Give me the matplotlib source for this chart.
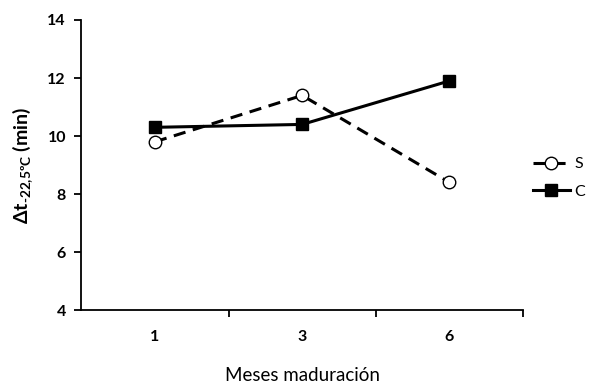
import matplotlib.pyplot as plt
import matplotlib as mpl

mpl.rcParams['font.family'] = ['Lato', 'DejaVu Sans']
mpl.rcParams['mathtext.fontset'] = 'custom'
mpl.rcParams['mathtext.rm'] = 'Lato:bold'
mpl.rcParams['mathtext.it'] = 'Lato:bold'
mpl.rcParams['mathtext.bf'] = 'Lato:bold'

meses = ['1', '3', '6']
s_vals = [9.8, 11.4, 8.4]
c_vals = [10.3, 10.4, 11.9]

fig = plt.figure(figsize=(5.93, 3.92), dpi=100)
ax = fig.add_axes([0.137, 0.209, 0.745, 0.74])
x = range(len(meses))

ax.plot(x, s_vals, color='black', lw=2.2, ls=(0, (4, 2.5)), marker='o', ms=9,
        mfc='white', mec='black', mew=1, label='S')
ax.plot(x, c_vals, color='black', lw=2.2, marker='s', ms=9,
        mfc='black', mec='black', label='C')

ax.set_xlim(-0.5, 2.5)
ax.set_ylim(4, 14)
ax.set_yticks([4, 6, 8, 10, 12, 14])
ax.set_xticks(list(x))
ax.set_xticklabels(meses)
ax.set_xticks([0.5, 1.5, 2.5], minor=True)
ax.tick_params(axis='x', which='major', length=0, pad=14)
ax.tick_params(axis='x', which='minor', length=5, width=1.3, direction='out')
ax.tick_params(axis='y', length=5, width=1.3, direction='out', pad=6)
for t in ax.get_xticklabels() + ax.get_yticklabels():
    t.set_fontweight('bold')
    t.set_fontsize(11.5)

for side in ['top', 'right']:
    ax.spines[side].set_visible(False)
for side in ['left', 'bottom']:
    ax.spines[side].set_linewidth(1.3)

ax.set_xlabel('Meses maduración', fontsize=13.5, labelpad=17)
ax.set_ylabel(r'$\Delta$t$_{\text{-22,5ºC}}$ (min)', fontsize=14,
              fontweight='bold', labelpad=9)

leg = ax.legend(loc='center left', bbox_to_anchor=(0.99, 0.455), frameon=False,
                handlelength=2.3, fontsize=11.5, labelspacing=0.85, handletextpad=0.3)

fig.savefig('out.png', dpi=100)
